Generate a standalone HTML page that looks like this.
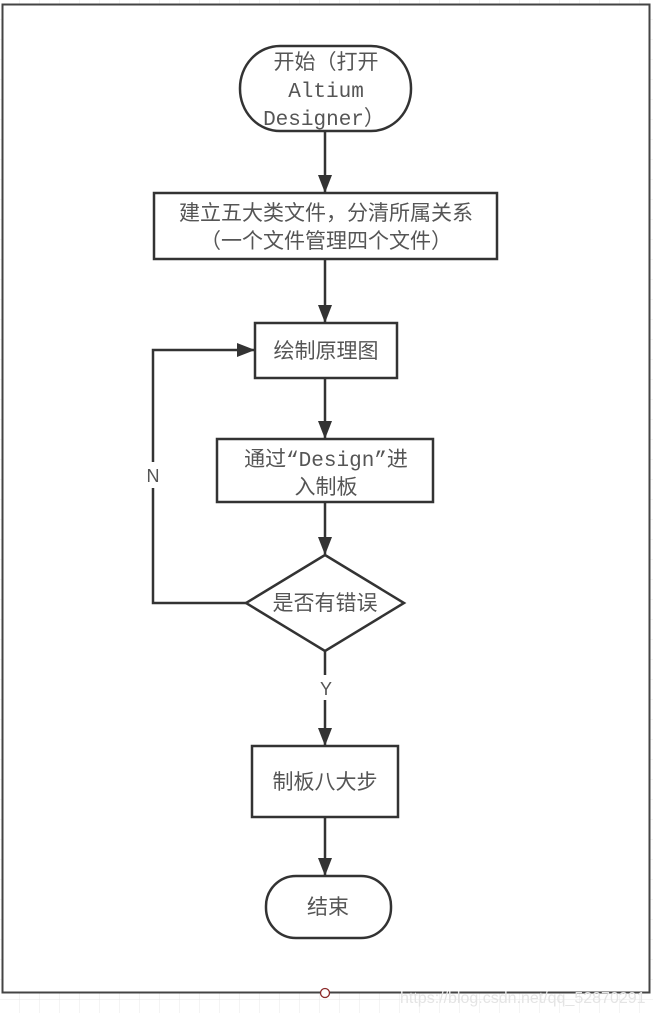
<!DOCTYPE html>
<html><head><meta charset="utf-8">
<style>
html,body{margin:0;padding:0;background:#fff;}
svg{display:block;}
text{font-family:"Liberation Mono","Noto Sans CJK SC",monospace;font-size:21px;fill:#555;}
.s{font-family:"Liberation Sans","Noto Sans CJK SC",sans-serif;}
</style></head><body>
<svg width="653" height="1013" viewBox="0 0 653 1013" xmlns="http://www.w3.org/2000/svg">
<defs>
<pattern id="g" width="20" height="20" patternUnits="userSpaceOnUse">
<path d="M20 0V20M0 20H20" stroke="#e8e8e8" stroke-width="1" fill="none"/>
</pattern>
<marker id="a" markerWidth="18" markerHeight="14" refX="17" refY="7" orient="auto" markerUnits="userSpaceOnUse">
<path d="M0 0L18 7L0 14Z" fill="#333"/>
</marker>
</defs>
<rect width="653" height="1013" fill="url(#g)"/>
<rect x="2.5" y="4.5" width="647" height="988" fill="#fff" stroke="#444" stroke-width="2"/>
<g stroke="#333" stroke-width="2.5" fill="#fff">
<rect x="240" y="46" width="171" height="85" rx="40" ry="42"/>
<rect x="154" y="193" width="343" height="66"/>
<rect x="255" y="323" width="142" height="55"/>
<rect x="217" y="439" width="216" height="63"/>
<path d="M325 555L404 603L325 651L246 603Z"/>
<rect x="252" y="746" width="146" height="71"/>
<rect x="266" y="876" width="125" height="62" rx="30" ry="30"/>
</g>
<g stroke="#333" stroke-width="2.5" fill="none">
<path d="M325 131V192" marker-end="url(#a)"/>
<path d="M325 259V322" marker-end="url(#a)"/>
<path d="M325 378V438" marker-end="url(#a)"/>
<path d="M325 502V554" marker-end="url(#a)"/>
<path d="M325 651V675"/>
<path d="M325 700V745" marker-end="url(#a)"/>
<path d="M325 817V875" marker-end="url(#a)"/>
<path d="M246 603H153V350H254" marker-end="url(#a)"/>
</g>
<rect x="146" y="462" width="16" height="26" fill="#fff"/>
<text x="153" y="482" text-anchor="middle" class="s" style="font-size:18px">N</text>
<text x="326" y="695" text-anchor="middle" class="s" style="font-size:18px">Y</text>
<g text-anchor="middle">
<text x="326" y="69">开始（打开</text>
<text x="326" y="97">Altium</text>
<text x="324" y="125">Designer）</text>
<text x="326" y="220">建立五大类文件，分清所属关系</text>
<text x="326" y="248">（一个文件管理四个文件）</text>
<text x="326" y="358">绘制原理图</text>
<text x="326" y="466">通过“Design”进</text>
<text x="326" y="494">入制板</text>
<text x="325" y="610">是否有错误</text>
<text x="325" y="789">制板八大步</text>
<text x="328" y="914">结束</text>
</g>
<circle cx="325" cy="993" r="4.5" fill="#fff" stroke="#8b2a2a" stroke-width="1.3"/>
<text x="400" y="1003" class="s" style="font-size:16px;fill:#e4e4e4">https://blog.csdn.net/qq_52870291</text>
</svg>
</body></html>
